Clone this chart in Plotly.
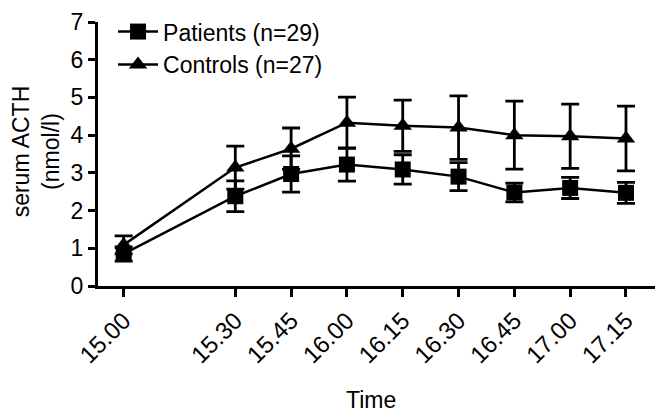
import plotly.graph_objects as go

minutes = [0, 30, 45, 60, 75, 90, 105, 120, 135]
tick_labels = ["15.00", "15.30", "15.45", "16.00", "16.15", "16.30", "16.45", "17.00", "17.15"]

patients = [0.85, 2.38, 2.97, 3.22, 3.09, 2.90, 2.48, 2.60, 2.47]
patients_err = [0.19, 0.41, 0.48, 0.44, 0.39, 0.37, 0.25, 0.28, 0.28]
controls = [1.09, 3.14, 3.64, 4.33, 4.25, 4.20, 4.00, 3.97, 3.91]
controls_err = [0.24, 0.57, 0.55, 0.68, 0.68, 0.84, 0.90, 0.85, 0.86]

FONT = "Liberation Sans, Arial, sans-serif"

fig = go.Figure()
fig.add_trace(go.Scatter(
    x=minutes, y=patients, name="Patients (n=29)", mode="lines+markers",
    line=dict(color="black", width=2.5),
    marker=dict(symbol="square", size=16, color="black"),
    error_y=dict(type="data", array=patients_err, visible=True, color="black", thickness=2.8, width=9),
))
fig.add_trace(go.Scatter(
    x=minutes, y=controls, name="Controls (n=27)", mode="lines+markers",
    line=dict(color="black", width=2.5),
    marker=dict(symbol="triangle-up", size=16, color="black"),
    error_y=dict(type="data", array=controls_err, visible=True, color="black", thickness=2.8, width=9),
))

fig.update_layout(
    width=662, height=418,
    margin=dict(l=98, r=7, t=22, b=132, autoexpand=False),
    paper_bgcolor="white", plot_bgcolor="white",
    font=dict(family=FONT, size=22, color="black"),
    showlegend=True,
    legend=dict(x=0.027, y=1.045, xanchor="left", yanchor="top", bgcolor="rgba(0,0,0,0)",
                font=dict(size=23), tracegroupgap=0, itemwidth=40),
    xaxis=dict(
        range=[-6.9, 142.8], tickmode="array", tickvals=minutes, ticktext=tick_labels,
        tickangle=-45, showline=True, linecolor="black", linewidth=3,
        ticks="outside", ticklen=8, tickwidth=2.5, tickcolor="black",
        showgrid=False, zeroline=False, tickfont=dict(size=24),
    ),
    yaxis=dict(
        range=[0, 7], dtick=1, showline=True, linecolor="black", linewidth=3,
        ticks="outside", ticklen=7, tickwidth=2.5, tickcolor="black",
        showgrid=False, zeroline=False, tickfont=dict(size=23),
    ),
    annotations=[
        dict(text="serum ACTH<br>(nmol/l)", textangle=-90, xref="paper", yref="paper",
             x=0, y=0.51, xshift=-62, xanchor="center", yanchor="middle", showarrow=False,
             font=dict(size=23)),
        dict(text="Time", xref="paper", yref="paper", x=0.49, y=0, yshift=-114,
             xanchor="center", yanchor="middle", showarrow=False, font=dict(size=23)),
    ],
)

fig.write_html("out.html", config={"displayModeBar": False},
               post_script="document.body.style.margin='0px';")
